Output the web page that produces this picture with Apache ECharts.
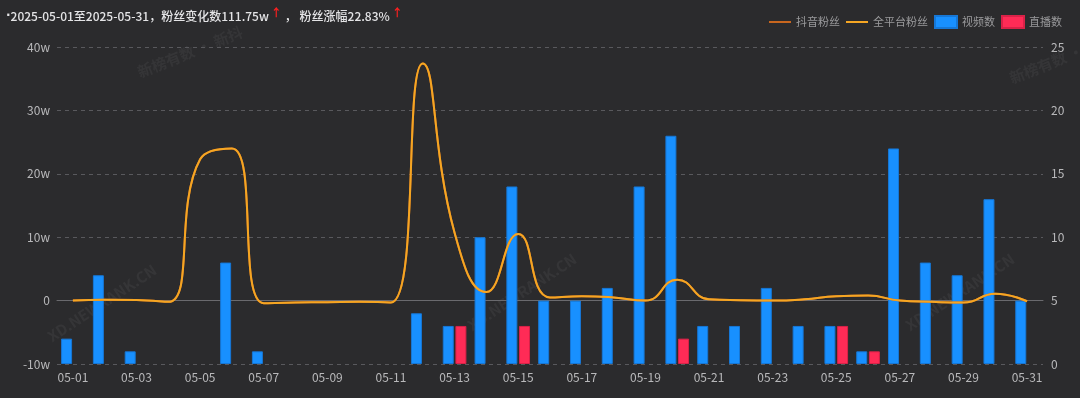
<!DOCTYPE html>
<html>
<head>
<meta charset="utf-8">
<script src="https://cdn.jsdelivr.net/npm/echarts@6/dist/echarts.min.js"></script>
<style>
    html, body { margin: 0; padding: 0; background: #2b2b2d; }
    #chart { width: 1080px; height: 398px; }
</style>
</head>
<body>
<div id="chart"></div>
<script>
    const days = [
        "05-01", "05-02", "05-03", "05-04", "05-05", "05-06", "05-07", "05-08", "05-09", "05-10",
        "05-11", "05-12", "05-13", "05-14", "05-15", "05-16", "05-17", "05-18", "05-19", "05-20",
        "05-21", "05-22", "05-23", "05-24", "05-25", "05-26", "05-27", "05-28", "05-29", "05-30", "05-31"
    ];

    // fan change, in w (万)
    const douyinFans = [
        0, 0.15, 0.1, -0.2, 22.3, 24.0, -0.4, -0.3, -0.25, -0.2,
        -0.3, 37.4, 10.7, 1.35, 10.5, 0.5, 0.7, 0.5, 0, 3.3,
        0.2, 0.05, 0, 0.2, 0.7, 0.8, 0, -0.2, -0.3, 1.1, -0.1
    ];
    const allFans = douyinFans.slice();

    const videoCount = [
        2, 7, 1, null, null, 8, 1, null, null, null,
        null, 4, 3, 10, 14, 5, 5, 6, 14, 18,
        3, 3, 6, 3, 3, 1, 17, 8, 7, 13, 5
    ];
    const liveCount = [
        null, null, null, null, null, null, null, null, null, null,
        null, null, 3, null, 3, null, null, null, null, 2,
        null, null, null, null, 3, 1, null, null, null, null, null
    ];

    const fansTicks = [-10, 0, 10, 20, 30, 40];
    const countTicks = [0, 5, 10, 15, 20, 25];

    const font = "'Noto Sans CJK SC', 'Microsoft YaHei', sans-serif";
    const labelColor = "#b9b9bb";
    const lineIcon = "path://M0,0H22V2H0Z";

    const watermarks = [
        { text: "新榜有数 · 新抖", x: 190, y: 52, rotation: 0.38 },
        { text: "新榜有数 · 新抖", x: 1062, y: 58, rotation: 0.38 },
        { text: "XD.NEWRANK.CN", x: 102, y: 303, rotation: 0.58 },
        { text: "XD.NEWRANK.CN", x: 522, y: 292, rotation: 0.58 },
        { text: "XD.NEWRANK.CN", x: 960, y: 292, rotation: 0.58 }
    ];

    const chart = echarts.init(document.getElementById("chart"), null, { renderer: "canvas" });

    chart.setOption({
        backgroundColor: "#2b2b2d",
        animation: false,
        textStyle: { fontFamily: font },
        title: {
            left: 1,
            top: 2,
            text: "{d|·}{t|2025-05-01至2025-05-31，粉丝变化数111.75w}{up|↑}{t|， 粉丝涨幅22.83%}{up|↑}",
            textStyle: {
                rich: {
                    d: { color: "#e4e4e6", fontSize: 12, fontWeight: "bold", fontFamily: "DejaVu Sans", lineHeight: 16 },
                    t: { color: "#e4e4e6", fontSize: 12, fontWeight: 500, fontFamily: font, lineHeight: 16 },
                    up: { color: "#ff2020", fontSize: 11, fontWeight: "bold", padding: [0, 3, 7, 2] }
                }
            }
        },
        legend: {
            top: 10,
            right: 13,
            itemWidth: 22,
            itemHeight: 12,
            itemGap: 6,
            data: [
                { name: "抖音粉丝", icon: lineIcon },
                { name: "全平台粉丝", icon: lineIcon },
                { name: "视频数", icon: "rect" },
                { name: "直播数", icon: "rect" }
            ],
            textStyle: { color: "#9a9a9c", fontSize: 11, fontFamily: font }
        },
        graphic: watermarks.map((w) => ({
            type: "text",
            x: w.x,
            y: w.y,
            rotation: w.rotation,
            z: -10,
            silent: true,
            style: {
                text: w.text,
                fill: "rgba(255,255,255,0.05)",
                font: "bold 15px " + font,
                align: "center",
                verticalAlign: "middle"
            }
        })),
        grid: { left: 57, right: 37, top: 47, bottom: 34 },
        xAxis: [
            {
                type: "category",
                data: days,
                position: "bottom",
                axisLine: { show: false, onZero: false },
                axisTick: { show: false },
                axisLabel: { interval: 1, color: labelColor, fontSize: 12, margin: 7 }
            },
            {
                type: "category",
                data: days,
                position: "bottom",
                axisLine: { onZero: true, onZeroAxisIndex: 0, lineStyle: { color: "#6a6a6e" } },
                axisTick: { interval: 1, alignWithLabel: true, length: 4, lineStyle: { color: "#6a6a6e" } },
                axisLabel: { show: false }
            }
        ],
        yAxis: [
            {
                type: "value",
                min: fansTicks[0],
                max: fansTicks[fansTicks.length - 1],
                interval: 10,
                axisLine: { show: false },
                axisTick: { show: false },
                axisLabel: {
                    color: labelColor,
                    fontSize: 12,
                    margin: 7,
                    formatter: (v) => (v === 0 ? "0" : v + "w")
                },
                splitLine: { lineStyle: { color: "#59595d", type: [4, 4] } }
            },
            {
                type: "value",
                position: "right",
                min: countTicks[0],
                max: countTicks[countTicks.length - 1],
                interval: 5,
                axisLine: { show: false },
                axisTick: { show: false },
                axisLabel: { color: labelColor, fontSize: 12, margin: 8 },
                splitLine: { show: false }
            }
        ],
        series: [
            {
                name: "视频数",
                type: "bar",
                yAxisIndex: 1,
                barWidth: 11,
                barGap: "15%",
                data: videoCount,
                itemStyle: { color: "#1890ff", borderColor: "#1677d6", borderWidth: 1 }
            },
            {
                name: "直播数",
                type: "bar",
                yAxisIndex: 1,
                barWidth: 11,
                barGap: "15%",
                data: liveCount,
                itemStyle: { color: "#ff2b56", borderColor: "#d92248", borderWidth: 1 }
            },
            {
                name: "抖音粉丝",
                type: "line",
                yAxisIndex: 0,
                smooth: true,
                symbol: "none",
                z: 3,
                data: douyinFans,
                itemStyle: { color: "#c8661e" },
                lineStyle: { color: "#c8661e", width: 2 }
            },
            {
                name: "全平台粉丝",
                type: "line",
                yAxisIndex: 0,
                smooth: true,
                symbol: "none",
                z: 4,
                data: allFans,
                itemStyle: { color: "#f5a623" },
                lineStyle: { color: "#f5a623", width: 2 }
            }
        ]
    });
</script>
</body>
</html>
